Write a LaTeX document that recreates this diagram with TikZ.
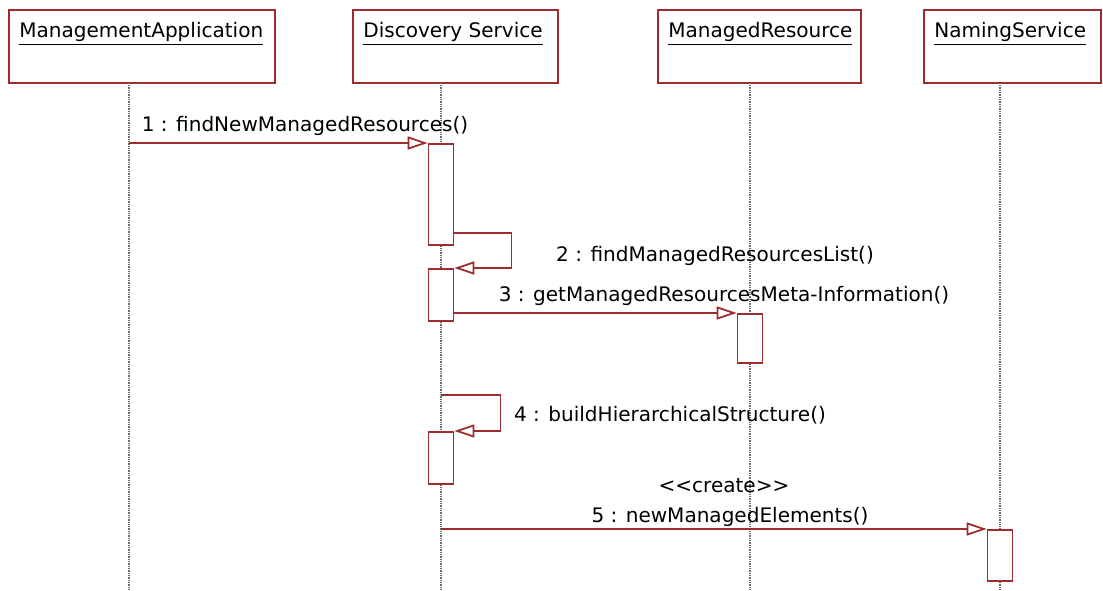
\documentclass[tikz,border=0pt]{standalone}
\usepackage{fontspec}
\setmainfont{DejaVu Sans}
\usepackage{tikz}
\usetikzlibrary{arrows.meta,positioning,calc}
\usepackage{xcolor}
\definecolor{BoxRed}  {RGB}{158, 44, 44}
\definecolor{LineGray}{RGB}{105,105,105}

\begin{document}
\begin{tikzpicture}[x=0.02cm,y=-0.02cm,
    objbox/.style={draw=BoxRed,line width=1pt,anchor=north west,
      minimum height=1.46cm,inner sep=0pt},
    objname/.style={anchor=base west,font=\fontsize{11.4}{13}\selectfont,inner sep=0pt},
    life/.style={LineGray,line width=0.9pt,dash pattern=on 0.5pt off 0.5pt},
    actbox/.style={draw=BoxRed,fill=white,line width=1pt,anchor=north,
      minimum width=0.5cm,inner sep=0pt},
    msg/.style={BoxRed,line width=1pt,
      -{Triangle[open,length=0.4cm,width=0.26cm,line width=1pt]}},
    msgtxt/.style={anchor=base,font=\fontsize{11.4}{13}\selectfont,inner sep=0pt}]
  \useasboundingbox (0,0) rectangle (1103,591);
  % objects and their lifelines
  \foreach \n/\x/\w/\lx/\t in {app/8/5.32cm/129/ManagementApplication,
                               disc/352/4.1cm/441/Discovery Service,
                               res/657/4.06cm/750/ManagedResource,
                               nam/923/3.54cm/1000/NamingService}{
    \node[objbox,minimum width=\w] (\n) at (\x,9) {};
    \node[objname] (\n-t) at ($(\n.north west)+(11,29)$) {\underline{\t}};
    \coordinate (\n-top) at (\lx,83);
    \coordinate (\n-end) at (\lx,591);
    \draw[life] (\n-top) -- (\n-end);
  }
  % activations
  \node[actbox,minimum height=2.02cm] (act1) at (441,143) {};
  \node[actbox,minimum height=1.04cm] (act2) at (441,268) {};
  \node[actbox,minimum height=0.98cm] (act3) at (750,313) {};
  \node[actbox,minimum height=1.04cm] (act4) at (441,431) {};
  \node[actbox,minimum height=1.02cm] (act5) at (1000,529) {};
  \coordinate (s4) at (441,395);
  \coordinate (s5) at (441,529);
  % messages
  \draw[msg] (app-top |- act1.north) -- (act1.north west);
  \node[msgtxt] (m1) at (305,132) {1 : findNewManagedResources()};
  \draw[msg] ([yshift=0.26cm]act1.south east)
    -| ($(act2.north east)+(57,0)$) -- (act2.north east);
  \node[msgtxt] (m2) at (715,262) {2 : findManagedResourcesList()};
  \draw[msg] (act2.east |- act3.north west) -- (act3.north west);
  \node[msgtxt] (m3) at (724,302) {3 : getManagedResourcesMeta-Information()};
  \draw[msg] (s4) -| ($(act4.north east)+(46,0)$) -- (act4.north east);
  \node[msgtxt] (m4) at (670,421) {4 : buildHierarchicalStructure()};
  \draw[msg] (s5) -- (act5.north west);
  \node[msgtxt] (m5a) at (724,492) {<{}<create>{}>};
  \node[msgtxt] (m5) at (730,522) {5 : newManagedElements()};
\end{tikzpicture}
\end{document}
